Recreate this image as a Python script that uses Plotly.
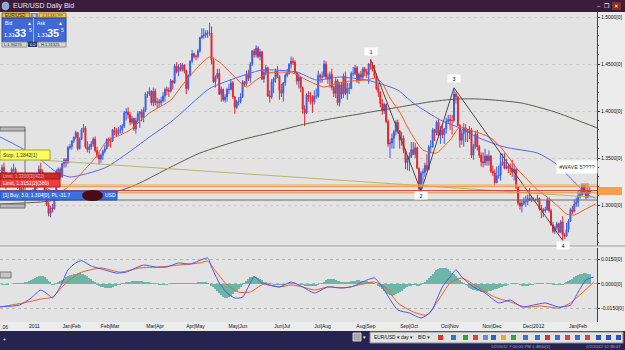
import plotly.graph_objects as go

# ---------------- DATA ----------------
# Daily EUR/USD candles (prices in 1/10000), Dec-06-2010 .. Feb-02-2012
O = [13250,13400,13260,13220,13250,13220,13380,13380,13240,13230,
     13180,13140,13120,13100,13110,13100,13150,13090,13210,13280,
     13380,13350,13310,13150,13000,12910,12970,12960,13110,13360,
     13380,13300,13440,13480,13450,13610,13620,13680,13720,13770,
     13600,13700,13800,13820,13620,13590,13620,13650,13700,13580,
     13530,13490,13530,13570,13600,13700,13680,13680,13800,13770,
     13760,13800,13800,13840,13980,13990,13960,13880,13920,13810,
     13900,13970,13990,13930,14010,14180,14180,14210,14090,14210,
     14090,14100,14090,14110,14160,14230,14220,14210,14320,14300,
     14480,14420,14470,14440,14490,14430,14240,14380,14530,14610,
     14580,14580,14640,14780,14800,14810,14830,14830,14830,14540,
     14310,14360,14400,14180,14230,14120,14150,14230,14230,14300,
     14150,14040,14100,14100,14150,14310,14290,14390,14350,14500,
     14640,14600,14670,14580,14630,14340,14410,14460,14160,14150,
     14310,14340,14430,14370,14220,14190,14300,14380,14400,14500,
     14530,14520,14410,14320,14360,14250,14020,13980,14170,14150,
     14150,14100,14160,14160,14380,14360,14370,14500,14360,14340,
     14390,14250,14190,14320,14090,14280,14180,14370,14190,14240,
     14240,14400,14400,14460,14330,14390,14360,14450,14420,14390,
     14500,14490,14440,14370,14240,14200,14080,14000,14070,13890,
     13650,13660,13710,13780,13880,13790,13690,13710,13580,13450,
     13500,13520,13590,13540,13610,13390,13170,13340,13350,13420,
     13380,13620,13620,13800,13770,13880,13740,13800,13750,13810,
     13890,13910,13900,13900,14180,14150,13850,13690,13760,13820,
     13790,13770,13800,13530,13620,13750,13620,13530,13460,13450,
     13520,13470,13520,13360,13340,13240,13310,13320,13440,13460,
     13390,13410,13390,13390,13350,13380,13190,13020,12990,13020,
     13040,13040,13070,13050,13060,13050,13050,13070,12960,12950,
     12940,12950,13050,12940,12790,12720,12760,12800,12710,12820,
     12680,12670,12740,12830,12950,12930,13010,13030,13100,13110,
     13210,13140,13080,13150]
H = [13430,13450,13290,13310,13290,13400,13440,13400,13290,13250,
     13210,13200,13160,13150,13130,13160,13170,13230,13300,13420,
     13450,13380,13330,13170,13030,12990,13010,13120,13380,13400,
     13400,13450,13500,13500,13630,13650,13690,13730,13790,13780,
     13720,13820,13860,13840,13680,13650,13680,13720,13730,13620,
     13560,13550,13590,13640,13710,13720,13720,13810,13830,13820,
     13830,13850,13860,14000,14030,14040,13990,13950,13930,13930,
     14000,14000,14020,14040,14200,14210,14250,14220,14250,14240,
     14140,14130,14150,14200,14250,14260,14250,14340,14330,14500,
     14520,14500,14510,14510,14500,14440,14390,14540,14650,14620,
     14600,14660,14790,14880,14880,14860,14860,14940,14900,14570,
     14380,14450,14450,14260,14240,14180,14250,14290,14340,14320,
     14160,14120,14150,14190,14330,14320,14430,14440,14520,14650,
     14660,14700,14690,14660,14640,14440,14490,14470,14220,14340,
     14360,14450,14480,14380,14290,14310,14400,14450,14510,14580,
     14570,14540,14420,14400,14370,14260,14060,14190,14210,14200,
     14170,14220,14240,14430,14400,14420,14540,14530,14400,14420,
     14450,14270,14350,14340,14300,14310,14400,14420,14300,14300,
     14420,14470,14490,14480,14410,14430,14470,14470,14450,14510,
     14550,14520,14490,14400,14290,14210,14130,14090,14080,13910,
     13700,13760,13800,13900,13910,13790,13780,13740,13600,13530,
     13560,13670,13670,13660,13620,13400,13360,13390,13450,13540,
     13640,13690,13820,13810,13900,13910,13840,13870,13820,13930,
     13960,13960,13960,14247,14200,14160,13860,13800,13870,13860,
     13810,13840,13820,13650,13790,13800,13640,13560,13560,13600,
     13540,13580,13530,13420,13380,13410,13420,13550,13550,13550,
     13490,13440,13440,13480,13440,13390,13200,13060,13060,13080,
     13100,13110,13180,13100,13080,13070,13110,13080,13000,12970,
     12980,13080,13080,12960,12820,12780,12820,12810,12840,12880,
     12700,12810,12850,12970,12990,13060,13080,13150,13170,13230,
     13230,13230,13230,13190]
L = [13230,13250,13170,13200,13190,13200,13350,13210,13170,13130,
     13100,13100,13060,13070,13080,13070,13070,13080,13170,13260,
     13320,13270,13130,12990,12880,12870,12920,12950,13080,13300,
     13280,13290,13400,13400,13440,13590,13590,13660,13700,13580,
     13590,13690,13770,13600,13560,13550,13590,13620,13560,13500,
     13430,13450,13480,13550,13590,13620,13610,13670,13740,13730,
     13740,13760,13760,13820,13900,13920,13850,13860,13790,13760,
     13880,13820,13890,13880,13990,14140,14160,14060,14050,14060,
     14030,14040,14060,14090,14100,14170,14150,14200,14230,14290,
     14400,14370,14420,14420,14400,14180,14220,14370,14510,14560,
     14540,14560,14620,14770,14770,14780,14780,14800,14500,14300,
     14250,14340,14170,14100,14100,14090,14100,14180,14220,14130,
     13970,14020,14060,14080,14140,14260,14270,14320,14300,14480,
     14570,14570,14560,14540,14330,14300,14380,14150,14090,14130,
     14190,14300,14350,14120,14150,14100,14270,14360,14390,14450,
     14490,14400,14280,14240,14200,13970,13840,13970,14100,14070,
     13980,14070,14130,14140,14300,14300,14360,14340,14290,14250,
     14220,14150,14140,14060,14050,14130,14140,14170,14120,14180,
     14230,14370,14380,14300,14290,14330,14330,14370,14350,14290,
     14440,14420,14350,14220,14150,14040,13960,13970,13870,13620,
     13500,13600,13600,13740,13760,13600,13630,13550,13380,13370,
     13360,13500,13530,13500,13380,13150,13145,13230,13300,13360,
     13370,13550,13610,13680,13740,13720,13650,13710,13650,13760,
     13870,13800,13750,13880,14080,13840,13610,13640,13620,13670,
     13670,13700,13500,13480,13600,13580,13500,13410,13400,13420,
     13420,13420,13340,13310,13210,13230,13280,13260,13420,13380,
     13380,13340,13320,13300,13260,13170,13000,12950,12920,13000,
     12980,13000,13040,13030,13040,13040,13030,12940,12860,12870,
     12920,12940,12920,12780,12700,12690,12730,12700,12700,12624,
     12640,12660,12710,12820,12900,12920,12980,12980,13070,13090,
     13110,13060,13070,13120]
C = [13400,13260,13220,13250,13220,13380,13380,13240,13230,13180,
     13140,13120,13100,13110,13100,13150,13090,13210,13280,13380,
     13350,13310,13150,13000,12910,12970,12960,13110,13360,13380,
     13300,13440,13480,13450,13610,13620,13680,13720,13770,13600,
     13700,13800,13820,13620,13590,13620,13650,13700,13580,13530,
     13490,13530,13570,13600,13700,13680,13680,13800,13770,13760,
     13800,13800,13840,13980,13990,13960,13880,13920,13810,13900,
     13970,13990,13930,14010,14180,14180,14210,14090,14210,14090,
     14100,14090,14110,14160,14230,14220,14210,14320,14300,14480,
     14420,14470,14440,14490,14430,14240,14380,14530,14610,14580,
     14580,14640,14780,14800,14810,14830,14830,14830,14540,14310,
     14360,14400,14180,14230,14120,14150,14230,14230,14300,14150,
     14040,14100,14100,14150,14310,14290,14390,14350,14500,14640,
     14600,14670,14580,14630,14340,14410,14460,14160,14150,14310,
     14340,14430,14370,14220,14190,14300,14380,14400,14500,14530,
     14520,14410,14320,14360,14250,14020,13980,14170,14150,14150,
     14100,14160,14160,14380,14360,14370,14500,14360,14340,14390,
     14250,14190,14320,14090,14280,14180,14370,14190,14240,14240,
     14400,14400,14460,14330,14390,14360,14450,14420,14390,14500,
     14490,14440,14370,14240,14200,14080,14000,14070,13890,13650,
     13660,13710,13780,13880,13790,13690,13710,13580,13450,13500,
     13520,13590,13540,13610,13390,13170,13340,13350,13420,13380,
     13620,13620,13800,13770,13880,13740,13800,13750,13810,13890,
     13910,13900,13900,14180,14150,13850,13690,13760,13820,13790,
     13770,13800,13530,13620,13750,13620,13530,13460,13450,13520,
     13470,13520,13360,13340,13240,13310,13320,13440,13460,13390,
     13410,13390,13390,13350,13380,13190,13020,12990,13020,13040,
     13040,13070,13050,13060,13050,13050,13070,12960,12950,12940,
     12950,13050,12940,12790,12720,12760,12800,12710,12820,12680,
     12670,12740,12830,12950,12930,13010,13030,13100,13110,13210,
     13140,13080,13150,13135]

# month boundaries (candle index) and their labels
month_bounds = [20, 41, 61, 84, 105, 127, 149, 170, 193, 215, 236, 258, 280, 302]
month_labels = ["2011", "Jan|Feb", "Feb|Mar", "Mar|Apr", "Apr|May", "May|Jun", "Jun|Jul",
                "Jul|Aug", "Aug|Sep", "Sep|Oct", "Oct|Nov", "Nov|Dec", "Dec|2012", "Jan|Feb"]

price_ticks = [1.30, 1.35, 1.40, 1.45, 1.50]
price_tick_text = ["1.3000[0]", "1.3500[0]", "1.4000[0]", "1.4500[0]", "1.5000[0]"]
macd_ticks = [-0.015, 0.0, 0.015]
macd_tick_text = ["-0.0150[0]", "0.0000[0]", "0.0150[0]"]

# moving averages (candle index, price)
fast_idx = [-1, 9, 20, 27, 32, 40, 48, 54, 61, 66, 76, 87, 93, 102, 107, 112, 118, 126, 131, 137,
            143, 150, 157, 166, 173, 180, 188, 192, 196, 200, 205, 209, 213, 217, 224, 228, 231, 236,
            241, 246, 252, 257, 261, 266, 271, 276, 281, 287, 291, 295, 300, 306]
fast_val = [1.3372, 1.3287, 1.3213, 1.3138, 1.3160, 1.3319, 1.3500, 1.3680, 1.3745, 1.3798,
            1.3979, 1.4117, 1.4277, 1.4490, 1.4575, 1.4522, 1.4404, 1.4256, 1.4330, 1.4404,
            1.4415, 1.4404, 1.4330, 1.4256, 1.4298, 1.4320, 1.4330, 1.4350, 1.4298, 1.4138,
            1.3990, 1.3830, 1.3692, 1.3585, 1.3553, 1.3628, 1.3692, 1.3830, 1.3798, 1.3766,
            1.3713, 1.3617, 1.3511, 1.3372, 1.3266, 1.3160, 1.3085, 1.2979, 1.2904, 1.2894,
            1.2947, 1.3011]
mid_idx = [-1, 9, 20, 28, 35, 43, 54, 67, 76, 87, 93, 107, 119, 134, 152, 162, 174, 188, 197, 204,
           212, 226, 236, 246, 259, 276, 285, 294, 302, 306]
mid_val = [1.3724, 1.3617, 1.3479, 1.3351, 1.3298, 1.3330, 1.3404, 1.3585, 1.3724, 1.3883,
           1.3990, 1.4240, 1.4340, 1.4436, 1.4415, 1.4330, 1.4362, 1.4330, 1.4277, 1.4224,
           1.4085, 1.3904, 1.3819, 1.3713, 1.3617, 1.3553, 1.3447, 1.3266, 1.3106, 1.3074]
slow_idx = [-1, 20, 40, 62, 71, 87, 102, 123, 138, 154, 169, 184, 205, 220, 234, 246, 259, 268, 285, 307]
slow_val = [1.3011, 1.3032, 1.3085, 1.3160, 1.3234, 1.3404, 1.3553, 1.3692, 1.3766, 1.3851,
            1.3915, 1.3968, 1.4043, 1.4096, 1.4128, 1.4128, 1.4107, 1.4085, 1.3990, 1.3819]

# MACD pane
macd_idx = [-1, 9, 15, 20, 24, 26, 30, 34, 38, 41, 46, 53, 59, 64, 73, 79, 85, 91, 97, 106,
            108, 112, 116, 120, 124, 130, 134, 143, 149, 155, 161, 168, 174, 180, 188, 192, 196,
            204, 210, 216, 221, 227, 231, 234, 237, 243, 249, 256, 262, 268, 274, 280, 287, 293,
            297, 301, 305]
macd_val = [-0.0139, -0.0129, -0.0086, -0.0037, -0.0067, -0.0086, -0.0018, 0.0086, 0.0129, 0.0143,
            0.0110, 0.0086, 0.0067, 0.0073, 0.0116, 0.0104, 0.0104, 0.0129, 0.0122, 0.0159,
            0.0104, 0.0006, -0.0055, -0.0086, -0.0080, 0.0043, 0.0006, -0.0018, 0.0012, -0.0018,
            -0.0055, -0.0018, -0.0024, -0.0018, 0.0024, 0.0037, -0.0018, -0.0159, -0.0177, -0.0208,
            -0.0171, -0.0018, 0.0043, 0.0086, 0.0043, -0.0018, -0.0055, -0.0116, -0.0098, -0.0141,
            -0.0129, -0.0116, -0.0141, -0.0129, -0.0049, 0.0024, 0.0043]
signal_idx = [-1, 11, 20, 26, 32, 40, 51, 61, 71, 81, 91, 102, 106, 110, 116, 122, 128, 135, 143, 149,
              155, 161, 168, 176, 184, 192, 198, 204, 212, 219, 225, 231, 237, 245, 254, 262, 270,
              278, 287, 293, 299, 305]
signal_val = [-0.0141, -0.0116, -0.0092, -0.0080, -0.0006, 0.0067, 0.0098, 0.0073, 0.0098, 0.0104,
              0.0116, 0.0129, 0.0140, 0.0080, -0.0005, -0.0050, -0.0049, 0.0000, -0.0018, -0.0006,
              -0.0018, -0.0037, -0.0018, -0.0024, -0.0006, 0.0012, -0.0024, -0.0116, -0.0171, -0.0190,
              -0.0098, 0.0006, 0.0037, -0.0018, -0.0080, -0.0110, -0.0141, -0.0135, -0.0147, -0.0116,
              -0.0055, 0.0012]
# histogram, one value per candle, in 1/10000
hist = [-2, -2, -1, -1, 0, 0, 1, 1, 2, 3,
        4, 6, 8, 12, 18, 24, 30, 36, 42, 48,
        52, 48, 40, 30, 20, 10, -4, -2, 4, 10,
        16, 24, 32, 40, 48, 54, 58, 62, 64, 66,
        66, 64, 60, 54, 46, 38, 28, 18, 8, -2,
        -10, -16, -20, -24, -25, -24, -22, -18, -14, -10,
        -6, -2, 2, 6, 9, 12, 14, 16, 18, 18,
        18, 17, 16, 14, 12, 10, 8, 6, 4, 2,
        0, -2, -3, -3, -2, -1, 0, 1, 2, 3,
        4, 5, 5, 5, 4, 3, 2, 2, 3, 4,
        6, 8, 10, 12, 12, 10, 6, 0, -8, -16,
        -30, -45, -58, -68, -78, -84, -86, -82, -74, -64,
        -52, -40, -28, -16, -6, 6, 18, 30, 40, 45,
        46, 44, 38, 30, 22, 14, 8, 4, 2, 0,
        -2, -3, -4, -4, -3, -2, -1, 0, 1, 2,
        2, 1, 0, -2, -4, -6, -8, -10, -11, -12,
        -12, -10, -8, -4, 0, 6, 14, 22, 28, 30,
        30, 28, 24, 20, 16, 12, 10, 10, 12, 14,
        16, 18, 20, 22, 22, 21, 20, 18, 16, 14,
        12, 10, 6, 0, -8, -18, -30, -42, -54, -64,
        -70, -72, -70, -64, -56, -48, -40, -32, -24, -18,
        -12, -8, -6, -6, -8, -8, -4, 4, 14, 26,
        38, 50, 62, 74, 84, 92, 98, 100, 100, 96,
        90, 80, 70, 60, 48, 36, 24, 14, 4, -6,
        -14, -22, -28, -34, -38, -42, -45, -48, -49, -48,
        -46, -43, -40, -36, -32, -28, -24, -20, -16, -12,
        -8, -4, 0, 2, 3, 2, 0, -4, -8, -10,
        -10, -8, -6, -4, -2, 0, 1, 2, 2, 1,
        0, 1, 2, 1, -1, -3, -4, -4, -3, -1,
        2, 8, 16, 24, 32, 40, 48, 54, 60, 64,
        66, 66, 64, 60]

# Elliott wave pivots (candle index) and labels
wave_idx = [190, 216, 233, 289]
wave_names = ["1", "2", "3", "4"]
wave_label_price = [1.4633, 1.3096, 1.4351, 1.2574]

# horizontal order / level lines
order_levels = [1.3213, 1.3195, 1.3153, 1.3130, 1.3053]
trend_idx = [19.6, 306.7]
trend_val = [1.3479, 1.3080]

# ---------------- FIGURE ----------------
S = 1e-4
idx = list(range(len(C)))
o = [v * S for v in O]; h = [v * S for v in H]; l = [v * S for v in L]; c = [v * S for v in C]
wave_price = [h[wave_idx[0]], l[wave_idx[1]], h[wave_idx[2]], l[wave_idx[3]]]

FONT = "Liberation Sans, DejaVu Sans, Arial"
UP, DOWN = "#3d5fe0", "#e4262a"

fig = go.Figure()
fig.add_trace(go.Candlestick(
    x=idx, open=o, high=h, low=l, close=c, xaxis="x", yaxis="y",
    increasing=dict(line=dict(color=UP, width=1), fillcolor=UP),
    decreasing=dict(line=dict(color=DOWN, width=1), fillcolor=DOWN),
    whiskerwidth=0, hoverinfo="skip", showlegend=False))
fig.add_trace(go.Scatter(x=slow_idx, y=slow_val, mode="lines", yaxis="y",
                         line=dict(color="#5a5a55", width=1, shape="spline", smoothing=0.6), hoverinfo="skip"))
fig.add_trace(go.Scatter(x=mid_idx, y=mid_val, mode="lines", yaxis="y",
                         line=dict(color="#5866f0", width=1, shape="spline", smoothing=0.6), hoverinfo="skip"))
fig.add_trace(go.Scatter(x=fast_idx, y=fast_val, mode="lines", yaxis="y",
                         line=dict(color="#f25a22", width=1, shape="spline", smoothing=0.6), hoverinfo="skip"))
fig.add_trace(go.Scatter(x=trend_idx, y=trend_val, mode="lines", yaxis="y",
                         line=dict(color="#b9b46c", width=1), hoverinfo="skip"))
fig.add_trace(go.Scatter(x=wave_idx, y=wave_price, mode="lines", yaxis="y",
                         line=dict(color="#4a4a4a", width=1), hoverinfo="skip"))

fig.add_trace(go.Bar(x=idx, y=[v * S for v in hist], yaxis="y2", width=0.6,
                     marker=dict(color="#6db5a6", line=dict(width=0)), hoverinfo="skip"))
fig.add_trace(go.Scatter(x=signal_idx, y=signal_val, mode="lines", yaxis="y2",
                         line=dict(color="#f0601e", width=1, shape="spline", smoothing=0.6), hoverinfo="skip"))
fig.add_trace(go.Scatter(x=macd_idx, y=macd_val, mode="lines", yaxis="y2",
                         line=dict(color="#4b58ee", width=1, shape="spline", smoothing=0.6), hoverinfo="skip"))

# pixel helpers
W, HT = 625, 350
ML, MR, MT, MB = 0, 28, 12, 19
PW, PH = W - ML - MR, HT - MT - MB


def fx(x):
    return (x - ML) / PW


def fy(y):
    return (HT - MB - y) / PH


shapes, annos = [], []


def rect(x0, y0, x1, y1, fill, line=None, lw=1):
    shapes.append(dict(type="rect", xref="paper", yref="paper", x0=fx(x0), x1=fx(x1),
                       y0=fy(y1), y1=fy(y0), fillcolor=fill, layer="above",
                       line=dict(color=line if line else fill, width=lw if line else 0)))


def hline(x0, x1, y, color, lw=1):
    shapes.append(dict(type="line", xref="paper", yref="paper", x0=fx(x0), x1=fx(x1),
                       y0=fy(y), y1=fy(y), layer="above", line=dict(color=color, width=lw)))


def vline(x, y0, y1, color, lw=1):
    shapes.append(dict(type="line", xref="paper", yref="paper", x0=fx(x), x1=fx(x),
                       y0=fy(y0), y1=fy(y1), layer="above", line=dict(color=color, width=lw)))


def text(x, y, s, size=5, color="#000", anchor="left"):
    annos.append(dict(xref="paper", yref="paper", x=fx(x), y=fy(y), text=s, showarrow=False,
                      xanchor=anchor, yanchor="middle", borderpad=0,
                      font=dict(size=size, color=color, family=FONT)))


# order / level lines across the price pane
level_colors = ["#f3a25a", "#e8963e", "#d23a2c", "#f0883a", "#707062"]
for lv, col in zip(order_levels, level_colors):
    shapes.append(dict(type="line", xref="paper", yref="y", x0=0, x1=1, y0=lv, y1=lv,
                       layer="above", line=dict(color=col, width=1)))

# pane separator
hline(0, 625, 246, "#9a9a9a")

# left bracket marker
rect(0, 127, 25, 131, "#b8b8b8", "#707070")
rect(0, 204, 25, 208, "#b8b8b8", "#707070")
vline(25, 129, 206, "#707070")

# order labels
rect(0, 150, 50, 160, "#ffff5a", "#a8a828")
text(2, 155, "Stop, 1.2842[1]", 5, "#333")
rect(0, 173, 60, 179, "#c92a2a", "#a01818")
rect(0, 179, 60, 187, "#f03c3c", "#b02020")
text(2, 176, "Limit, 1.3200[3](422)", 4.5, "#f6b0b0")
text(2, 183, "Limit, 1.3151[2](380)", 5, "#ffffff")
rect(0, 191, 117, 200, "#3b6fe0", "#2050b0")
text(2, 195.5, "[1] Buy, 3.0, 1.304[0], PL -31.7", 5, "#ffffff")
shapes.append(dict(type="circle", xref="paper", yref="paper", x0=fx(82), x1=fx(103),
                   y0=fy(201), y1=fy(190), fillcolor="#4a0c14", layer="above",
                   line=dict(color="#4a0c14", width=0)))
text(104, 195.5, "USD", 5, "#ffffff")

# current price box on axis
rect(598, 187, 622, 195, "#f2a050")

# MACD tag
rect(0, 272, 11, 278, "#c6c6c6", "#777777")

# title bar
rect(0, 0, 625, 12, "#3b1d3b")
shapes.append(dict(type="circle", xref="paper", yref="paper", x0=fx(2), x1=fx(9),
                   y0=fy(10), y1=fy(2), fillcolor="#86a6d6", layer="above",
                   line=dict(color="#c0d0f0", width=0.5)))
text(12, 6, "EUR/USD Daily Bid", 7, "#e6e6f4")
rect(612, 2, 621, 10, "#8a2a2a")
text(599, 6, "–", 6, "#ffffff", "center")
text(607, 6, "❐", 6, "#ffffff", "center")
text(616.5, 6, "✕", 5.5, "#ffffff", "center")

# quote panel
rect(2, 13, 30, 18, "#e8b830", "#8a6a18")
text(4, 15.5, "EUR/USD", 4.5, "#222")
rect(31, 13, 38, 18, "#8a8a8a")
text(34.5, 15.5, "B", 4, "#fff", "center")
rect(39, 13, 66, 18, "#f0c848", "#a08020")
text(41, 15.5, "1.31335 PP", 4, "#5a4a10")
rect(2, 18, 66, 42, "#3e69d6", "#24459a")
vline(33.5, 18, 42, "#a0b4ee")
text(4, 22.5, "Bid", 5, "#ffffff")
text(29, 22.5, "▲", 5, "#ffffff", "center")
text(36, 22.5, "Ask", 5, "#ffffff")
text(61, 22.5, "▲", 5, "#ffffff", "center")
text(3, 35, "1.31", 5.5, "#ffffff")
text(13, 33, "<b>33</b>", 11, "#ffffff")
text(27.5, 29.5, "5", 5, "#ffffff")
text(35.5, 35, "1.31", 5.5, "#ffffff")
text(45.5, 33, "<b>35</b>", 11, "#ffffff")
text(60, 29.5, "5", 5, "#ffffff")
rect(2, 42, 27, 47, "#d6d6d6", "#909090")
text(3, 44.5, "L:1.30270", 4, "#222")
rect(28, 42, 37, 47, "#2e3a64")
text(32.5, 44.5, "0.2", 4, "#ffffff", "center")
rect(38, 42, 66, 47, "#d6d6d6", "#909090")
text(40, 44.5, "H:1.31325", 4, "#222")

# bottom status bar / toolbar
rect(0, 331, 625, 350, "#272350")
text(4, 339, "+", 5, "#ffffff", "center")
rect(353, 333, 361, 341, "#a8a8a8", "#d0d0d0")
text(364.5, 337, "▾", 5, "#ffffff", "center")
rect(370, 332, 623, 343, "#e2e2e2", "#8a8a8a")
text(373, 337.5, "EUR/USD ▾", 4.8, "#111")
text(400, 337.5, "day ▾", 4.8, "#111")
text(417, 337.5, "BID ▾", 4.8, "#111")
icon_cols = ["#e03030", "#3070e0", "#30a040", "#e04040", "#6090e0", "#3060c0", "#e0b020",
             "#40a040", "#4070d0", "#3070e0", "#e03030", "#3070e0", "#e04040", "#3070e0",
             "#e04040", "#3050c0", "#3050c0", "#3050c0"]
icon_x = [438, 451, 463, 473, 483, 491, 501, 511, 523, 535, 545, 555, 565, 575, 585, 596, 606, 616]
for xx, col in zip(icon_x, icon_cols):
    rect(xx, 335, xx + 5, 340, col)
text(490, 346.5, "1/2/2012 7:00:00 PM 1.4800[1]", 4.3, "#9aa3cc")
text(622, 346.5, "2/2/2012 12:38:47", 4.3, "#9aa3cc", "right")

# date label cut at left edge
text(0, 327, ".06", 5, "#222")

# wave labels
for wi, nm, wy in zip(wave_idx, wave_names, wave_label_price):
    annos.append(dict(xref="x", yref="y", x=wi, y=wy, text=nm, showarrow=False,
                      bgcolor="#ffffff", width=12, height=7, borderpad=0,
                      font=dict(size=5.5, color="#111", family=FONT)))
annos.append(dict(xref="x", yref="y", x=296.5, y=1.3404, text="#WAVE 5????", showarrow=False,
                  bgcolor="#ffffff", width=40, height=12, borderpad=0,
                  font=dict(size=5.5, color="#333", family=FONT)))

axis_font = dict(size=5, color="#111", family=FONT)
fig.update_layout(
    template="none", width=W, height=HT,
    margin=dict(l=ML, r=MR, t=MT, b=MB, pad=0),
    paper_bgcolor="#ececec", plot_bgcolor="#e3e3e3",
    showlegend=False, font=dict(family=FONT, size=5, color="#111"),
    xaxis=dict(domain=[0, 1], range=[-1.03, 306.7], anchor="y2",
               tickvals=[b - 0.5 for b in month_bounds], ticktext=month_labels,
               ticklabelposition="outside left", tickfont=axis_font, ticks="",
               showgrid=False, zeroline=False, showline=False, automargin=False,
               rangeslider=dict(visible=False), fixedrange=True),
    yaxis=dict(domain=[0.2665, 1], range=[1.2564, 1.5054], side="right", anchor="x",
               tickvals=price_ticks, ticktext=price_tick_text, tickfont=axis_font,
               ticks="outside", ticklen=2, tickcolor="#333",
               minor=dict(ticks="outside", ticklen=1, dtick=0.01, tickcolor="#555", showgrid=False),
               showgrid=True, gridcolor="#cdcdcd", griddash="dot", gridwidth=1,
               zeroline=False, showline=True, linecolor="#444", linewidth=1, automargin=False),
    yaxis2=dict(domain=[0.0282, 0.2602], range=[-0.02327, 0.02204], side="right", anchor="x",
                tickvals=macd_ticks, ticktext=macd_tick_text, tickfont=axis_font,
                ticks="outside", ticklen=2, tickcolor="#333",
                showgrid=True, gridcolor="#b5b5b5", griddash="dot", gridwidth=1,
                zeroline=False, showline=True, linecolor="#444", linewidth=1, automargin=False),
    shapes=shapes, annotations=annos, bargap=0,
)

fig.write_html("out.html")
